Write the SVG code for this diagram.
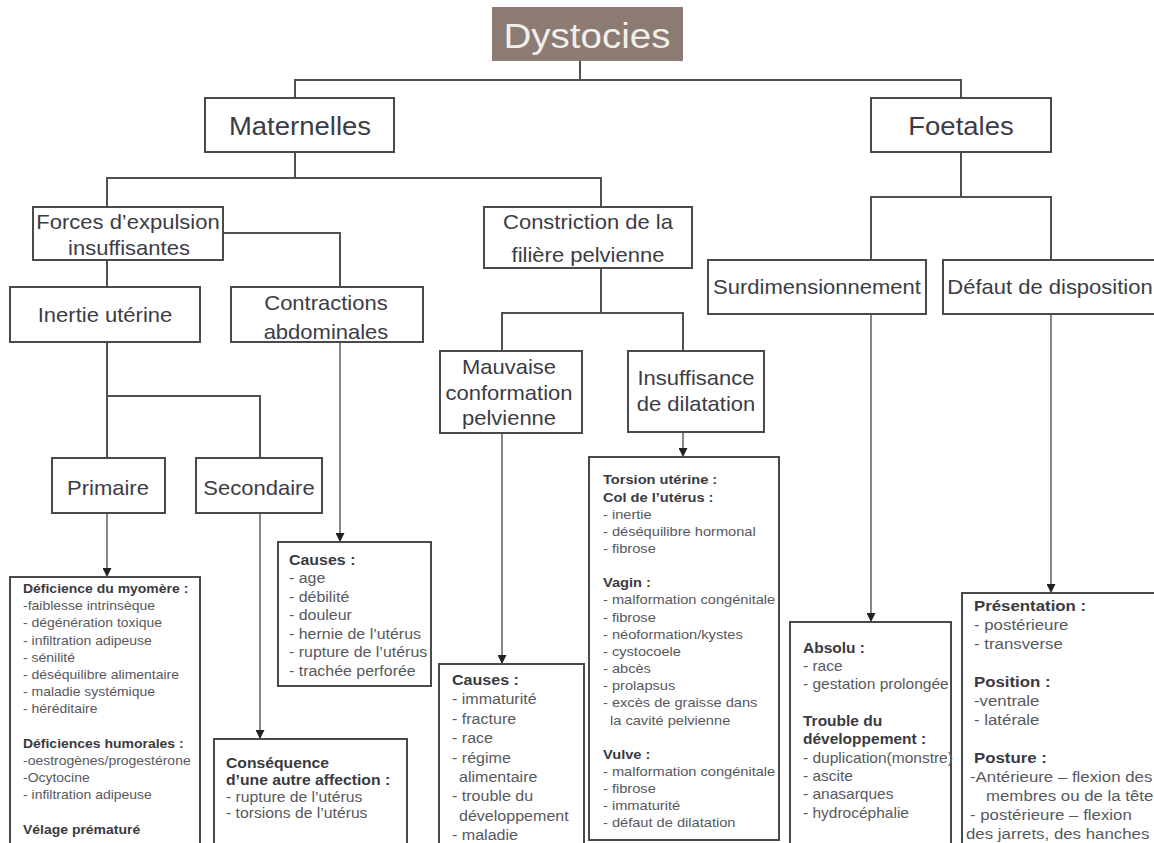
<svg xmlns="http://www.w3.org/2000/svg" width="1154" height="843" viewBox="0 0 1154 843">
<defs>
<style>
.bg{fill:#fff}
.box{fill:#fff;stroke:#4a4a4a;stroke-width:2}
.title{fill:#8b7b73;stroke:none}
.big{font-family:"Liberation Sans",Arial,sans-serif;fill:#3c3c44;text-anchor:middle;transform-box:fill-box;transform-origin:center;transform:scaleX(1.1)}
.tt{fill:#f2eeeb}
.sm{font-family:"Liberation Sans",Arial,sans-serif;fill:#58585e;transform-box:fill-box;transform-origin:left center;transform:scaleX(1.1)}
.h{font-weight:bold;fill:#3a3a40}
.ln{fill:none;stroke:#505050;stroke-width:2}
.ar{fill:none;stroke:#6a6a6a;stroke-width:1.6;marker-end:url(#ah)}
.a{font-size:12.7px}
.b{font-size:14.5px}
.c{font-size:14.3px}
.d{font-size:14.6px}
.e{font-size:13.3px}
.f{font-size:14.1px}
.g{font-size:15.3px}
</style>
<marker id="ah" markerUnits="userSpaceOnUse" markerWidth="10" markerHeight="9" refX="9" refY="4.5" orient="auto">
<path d="M0,0 L9,4.5 L0,9 z" fill="#222"/>
</marker>
</defs>
<rect class="bg" x="0" y="0" width="1154" height="843"/>

<g id="connectors">
<path class="ln" d="M580,61 V80 M295,98 V80 H961 V98"/>
<path class="ln" d="M295,152 V178 M107,207 V178 H601 V207"/>
<path class="ln" d="M223,233 H340 V287"/>
<path class="ln" d="M107,260 V287"/>
<path class="ln" d="M107,342 V458 M107,396 H260 V458"/>
<path class="ln" d="M601,268 V313 M502,351 V313 H683 V351"/>
<path class="ln" d="M961,152 V197 M871,260 V197 H1051 V260"/>
<path class="ar" d="M107,513 V577"/>
<path class="ar" d="M260,513 V739"/>
<path class="ar" d="M340,342 V542"/>
<path class="ar" d="M502,433 V664"/>
<path class="ar" d="M683,432 V457"/>
<path class="ar" d="M871,314 V622"/>
<path class="ar" d="M1051,314 V593"/>
</g>

<g id="dystocies">
<rect class="title" x="492" y="7" width="191" height="54"/>
<text class="big tt" x="587" y="48" font-size="35">Dystocies</text>
</g>

<g id="maternelles">
<rect class="box" x="205" y="98" width="189" height="54"/>
<text class="big" x="300" y="135" font-size="25">Maternelles</text>
</g>

<g id="foetales">
<rect class="box" x="871" y="98" width="180" height="54"/>
<text class="big" x="961" y="135" font-size="25">Foetales</text>
</g>

<g id="forces">
<rect class="box" x="33" y="207" width="190" height="53"/>
<text class="big" x="128" y="229" font-size="20">Forces d’expulsion</text>
<text class="big" x="129" y="255" font-size="20">insuffisantes</text>
</g>

<g id="constriction">
<rect class="box" x="484" y="207" width="208" height="61"/>
<text class="big" x="588" y="229" font-size="20">Constriction de la</text>
<text class="big" x="588" y="262" font-size="20">filière pelvienne</text>
</g>

<g id="inertie">
<rect class="box" x="10" y="287" width="190" height="55"/>
<text class="big" x="105" y="322" font-size="20">Inertie utérine</text>
</g>

<g id="contractions">
<rect class="box" x="231" y="287" width="192" height="55"/>
<text class="big" x="326" y="310" font-size="20">Contractions</text>
<text class="big" x="326" y="339" font-size="20">abdominales</text>
</g>

<g id="surdimensionnement">
<rect class="box" x="708" y="260" width="218" height="54"/>
<text class="big" x="817" y="294" font-size="20">Surdimensionnement</text>
</g>

<g id="defaut">
<rect class="box" x="943" y="260" width="220" height="54"/>
<text class="big" x="1050" y="294" font-size="20">Défaut de disposition</text>
</g>

<g id="mauvaise">
<rect class="box" x="440" y="351" width="142" height="82"/>
<text class="big" x="509" y="374" font-size="20">Mauvaise</text>
<text class="big" x="509" y="400" font-size="20">conformation</text>
<text class="big" x="509" y="425" font-size="20">pelvienne</text>
</g>

<g id="insuffisance">
<rect class="box" x="628" y="351" width="136" height="81"/>
<text class="big" x="696" y="385" font-size="20">Insuffisance</text>
<text class="big" x="696" y="411" font-size="20">de dilatation</text>
</g>

<g id="primaire">
<rect class="box" x="52" y="458" width="113" height="55"/>
<text class="big" x="108" y="495" font-size="20">Primaire</text>
</g>

<g id="secondaire">
<rect class="box" x="196" y="458" width="126" height="55"/>
<text class="big" x="259" y="495" font-size="20">Secondaire</text>
</g>

<g id="primaire-details">
<rect class="box" x="10" y="577" width="190" height="280"/>
<text class="sm a h" x="23" y="593">Déficience du myomère :</text>
<text class="sm a" x="23" y="610.2">-faiblesse intrinsèque</text>
<text class="sm a" x="23" y="627.4">- dégénération toxique</text>
<text class="sm a" x="23" y="644.6">- infiltration adipeuse</text>
<text class="sm a" x="23" y="661.8">- sénilité</text>
<text class="sm a" x="23" y="679">- déséquilibre alimentaire</text>
<text class="sm a" x="23" y="696.2">- maladie systémique</text>
<text class="sm a" x="23" y="713.4">- héréditaire</text>
<text class="sm a h" x="23" y="747.8">Déficiences humorales :</text>
<text class="sm a" x="23" y="765">-oestrogènes/progestérone</text>
<text class="sm a" x="23" y="782.2">-Ocytocine</text>
<text class="sm a" x="23" y="799.4">- infiltration adipeuse</text>
<text class="sm a h" x="23" y="833.8">Vélage prématuré</text>
</g>

<g id="contractions-causes">
<rect class="box" x="278" y="542" width="153" height="144"/>
<text class="sm b h" x="289" y="565">Causes :</text>
<text class="sm b" x="289" y="583.5">- age</text>
<text class="sm b" x="289" y="602">- débilité</text>
<text class="sm b" x="289" y="620.5">- douleur</text>
<text class="sm b" x="289" y="639">- hernie de l’utérus</text>
<text class="sm b" x="289" y="657.5">- rupture de l’utérus</text>
<text class="sm b" x="289" y="676">- trachée perforée</text>
</g>

<g id="secondaire-details">
<rect class="box" x="214" y="739" width="193" height="120"/>
<text class="sm c h" x="226" y="768">Conséquence</text>
<text class="sm c h" x="226" y="785">d’une autre affection :</text>
<text class="sm c" x="226" y="802">- rupture de l’utérus</text>
<text class="sm c" x="226" y="818">- torsions de l’utérus</text>
</g>

<g id="mauvaise-causes">
<rect class="box" x="439" y="664" width="145" height="195"/>
<text class="sm d h" x="452" y="685">Causes :</text>
<text class="sm d" x="452" y="704.4">- immaturité</text>
<text class="sm d" x="452" y="723.8">- fracture</text>
<text class="sm d" x="452" y="743.2">- race</text>
<text class="sm d" x="452" y="762.6">- régime</text>
<text class="sm d" x="459" y="782">alimentaire</text>
<text class="sm d" x="452" y="801.4">- trouble du</text>
<text class="sm d" x="459" y="820.8">développement</text>
<text class="sm d" x="452" y="840.2">- maladie</text>
</g>

<g id="dilatation-details">
<rect class="box" x="589" y="457" width="190" height="383"/>
<text class="sm e h" x="603" y="484.5">Torsion utérine :</text>
<text class="sm e h" x="603" y="501.6">Col de l’utérus :</text>
<text class="sm e" x="603" y="518.8">- inertie</text>
<text class="sm e" x="603" y="535.9">- déséquilibre hormonal</text>
<text class="sm e" x="603" y="553.1">- fibrose</text>
<text class="sm e h" x="603" y="587.4">Vagin :</text>
<text class="sm e" x="603" y="604.5">- malformation congénitale</text>
<text class="sm e" x="603" y="621.7">- fibrose</text>
<text class="sm e" x="603" y="638.8">- néoformation/kystes</text>
<text class="sm e" x="603" y="656">- cystocoele</text>
<text class="sm e" x="603" y="673.1">- abcès</text>
<text class="sm e" x="603" y="690.3">- prolapsus</text>
<text class="sm e" x="603" y="707.4">- excès de graisse dans</text>
<text class="sm e" x="610" y="724.6">la cavité pelvienne</text>
<text class="sm e h" x="603" y="758.9">Vulve :</text>
<text class="sm e" x="603" y="776">- malformation congénitale</text>
<text class="sm e" x="603" y="793.2">- fibrose</text>
<text class="sm e" x="603" y="810.3">- immaturité</text>
<text class="sm e" x="603" y="827.5">- défaut de dilatation</text>
</g>

<g id="surdim-details">
<rect class="box" x="790" y="622" width="161" height="237"/>
<text class="sm f h" x="803" y="653">Absolu :</text>
<text class="sm f" x="803" y="671">- race</text>
<text class="sm f" x="803" y="689">- gestation prolongée</text>
<text class="sm f h" x="803" y="726">Trouble du</text>
<text class="sm f h" x="803" y="744">développement :</text>
<text class="sm f" x="803" y="763">- duplication(monstre)</text>
<text class="sm f" x="803" y="781">- ascite</text>
<text class="sm f" x="803" y="799">- anasarques</text>
<text class="sm f" x="803" y="818">- hydrocéphalie</text>
</g>

<g id="disposition-details">
<rect class="box" x="962" y="593" width="200" height="266"/>
<text class="sm g h" x="974" y="611">Présentation :</text>
<text class="sm g" x="974" y="630">- postérieure</text>
<text class="sm g" x="974" y="649">- transverse</text>
<text class="sm g h" x="974" y="687">Position :</text>
<text class="sm g" x="974" y="706">-ventrale</text>
<text class="sm g" x="974" y="725">- latérale</text>
<text class="sm g h" x="974" y="763">Posture :</text>
<text class="sm g" x="970" y="782">-Antérieure – flexion des</text>
<text class="sm g" x="986" y="801">membres ou de la tête</text>
<text class="sm g" x="970" y="820">- postérieure – flexion</text>
<text class="sm g" x="966" y="839">des  jarrets, des hanches</text>
</g>
</svg>
